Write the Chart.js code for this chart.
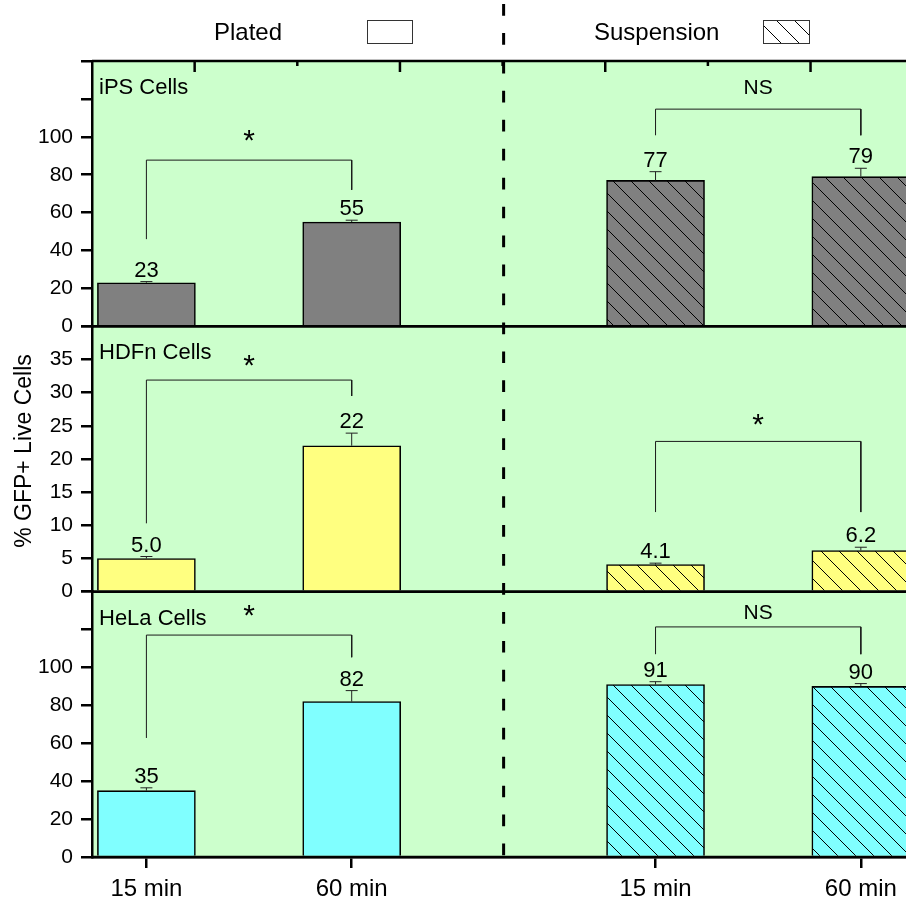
<!DOCTYPE html>
<html>
<head>
<meta charset="utf-8">
<script src="https://cdn.jsdelivr.net/npm/chart.js@4.4.1/dist/chart.umd.min.js"></script>
<style>
  html, body { margin: 0; padding: 0; background: #fff; overflow: hidden; }
  canvas { display: block; }
</style>
</head>
<body>
<canvas id="chart" width="906" height="903"></canvas>
<script>
const FONT = '"Liberation Sans", Arial, Helvetica, sans-serif';

// ---- data ----
const timeLabels = ['15 min', '60 min', '15 min', '60 min'];
const conditions = ['Plated', 'Suspension'];
const cellLines = ['iPS Cells', 'HDFn Cells', 'HeLa Cells'];
const ipsValues = [23, 55, 77, 79];
const ipsErrors = [0.6, 1.0, 4.6, 4.4];
const hdfnValues = [5.0, 22, 4.1, 6.2];
const hdfnErrors = [0.3, 1.9, 0.2, 0.5];
const helaValues = [35, 82, 91, 90];
const helaErrors = [1.5, 5.8, 1.5, 1.5];
const significance = [['*', 'NS'], ['*', '*'], ['*', 'NS']];
const yAxisTitle = '% GFP+ Live Cells';

// ---- layout ----
const barX = [1, 2, 3.48, 4.48];          // bar centres on the shared x scale
const dividerX = 2.74;                     // dashed line between Plated and Suspension
const xMin = 0.735, xMax = 4.70;
const panelMax = [140, 40, 140];
const panelStep = [20, 5, 20];
const panelLabelMax = [100, 35, 100];
// comparison brackets, per panel and condition: [left leg end, bar top, right leg end, label centre]
const bracketGeom = [
  [[46, 87.7, 72, 101.9], [100.8, 114.6, 100.8, 126.3]],
  [[10.3, 31.9, 29.5, 35.3], [12, 22.65, 12, 26.4]],
  [[62.8, 117.1, 105.4, 131.2], [107, 121.4, 107, 129.8]]
];
const axisIds = ['yIps', 'yHdfn', 'yHela'];
const fillColors = ['#808080', '#FFFF80', '#80FFFF'];
const plotBg = '#CCFFCC';

const canvas = document.getElementById('chart');
const ctx = canvas.getContext('2d');

function hatchPattern(base) {
  const s = 18;
  const c = document.createElement('canvas');
  c.width = s; c.height = s;
  const g = c.getContext('2d');
  g.fillStyle = base;
  g.fillRect(0, 0, s, s);
  g.strokeStyle = '#000';
  g.lineWidth = 1;
  g.beginPath();
  g.moveTo(-2, -2); g.lineTo(s + 2, s + 2);
  g.moveTo(-2, s - 2); g.lineTo(2, s + 2);
  g.moveTo(s - 2, -2); g.lineTo(s + 2, 2);
  g.stroke();
  return ctx.createPattern(c, 'repeat');
}

const panelValues = [ipsValues, hdfnValues, helaValues];
const panelErrors = [ipsErrors, hdfnErrors, helaErrors];

const datasets = [];
panelValues.forEach((vals, p) => {
  const hatch = hatchPattern(fillColors[p]);
  datasets.push({
    type: 'bar',
    label: cellLines[p],
    yAxisID: axisIds[p],
    data: vals.map((v, i) => ({ x: barX[i], y: v })),
    backgroundColor: vals.map((v, i) => (i < 2 ? fillColors[p] : hatch)),
    borderColor: '#000',
    borderWidth: 1.6,
    barThickness: 98,
    grouped: false,
    errors: panelErrors[p],
    order: 2
  });
  bracketGeom[p].forEach((g, k) => {
    const xa = barX[2 * k], xb = barX[2 * k + 1];
    datasets.push({
      type: 'line',
      yAxisID: axisIds[p],
      data: [{ x: xa, y: g[0] }, { x: xa, y: g[1] }, { x: xb, y: g[1] }, { x: xb, y: g[2] }],
      borderColor: '#1a1a1a',
      borderWidth: 1,
      pointRadius: 0,
      fill: false,
      tension: 0,
      order: 1,
      bracket: { text: significance[p][k], x: (xa + xb) / 2, y: g[3] }
    });
  });
});

function panelAxis(p) {
  return {
    type: 'linear',
    position: 'left',
    stack: 'cells',
    stackWeight: 1,
    min: 0,
    max: panelMax[p],
    afterBuildTicks: s => {
      const t = [];
      for (let v = 0; v <= panelMax[p]; v += panelStep[p]) t.push({ value: v });
      s.ticks = t;
    },
    afterFit: s => { s.width = 92; },
    ticks: {
      callback: v => (v <= panelLabelMax[p] ? String(v) : ''),
      font: { family: FONT, size: 21 },
      color: '#000',
      padding: 8,
      autoSkip: false
    },
    grid: { drawOnChartArea: false, drawTicks: true, tickLength: 11, color: '#000', lineWidth: 2.5 },
    border: { display: true, color: '#000', width: 2.5 }
  };
}

const framePlugin = {
  id: 'frame',
  beforeDraw(chart) {
    const a = chart.chartArea, c = chart.ctx;
    c.save();
    c.fillStyle = plotBg;
    c.fillRect(a.left, a.top, a.right - a.left, a.bottom - a.top);
    c.restore();
  },
  afterDatasetsDraw(chart) {
    const c = chart.ctx;
    const xs = chart.scales.x;
    c.save();
    chart.data.datasets.forEach((ds, i) => {
      const meta = chart.getDatasetMeta(i);
      const ys = chart.scales[ds.yAxisID];
      if (ds.type === 'bar') {
        meta.data.forEach((el, j) => {
          const v = ds.data[j].y;
          const yTop = ys.getPixelForValue(v + ds.errors[j]);
          c.strokeStyle = '#222';
          c.lineWidth = 1;
          c.beginPath();
          c.moveTo(el.x, el.y);
          c.lineTo(el.x, yTop);
          c.moveTo(el.x - 6, yTop);
          c.lineTo(el.x + 6, yTop);
          c.stroke();
          c.fillStyle = '#000';
          c.font = '22px ' + FONT;
          c.textAlign = 'center';
          c.textBaseline = 'alphabetic';
          c.fillText(v.toPrecision(2), el.x, yTop - 5);
        });
      } else if (ds.bracket) {
        const b = ds.bracket;
        const px = xs.getPixelForValue(b.x);
        const py = ys.getPixelForValue(b.y);
        c.fillStyle = '#000';
        c.textAlign = 'center';
        c.textBaseline = 'alphabetic';
        if (b.text === '*') {
          c.font = '30px ' + FONT;
          c.fillText(b.text, px, py + 0.57 * 30);
        } else {
          c.font = '21px ' + FONT;
          c.fillText(b.text, px, py + 0.358 * 21);
        }
      }
    });
    c.restore();
  },
  afterDraw(chart) {
    const c = chart.ctx, a = chart.chartArea, xs = chart.scales.x;
    c.save();
    // panel frame lines
    c.strokeStyle = '#000';
    c.lineWidth = 2.5;
    axisIds.forEach(id => {
      const s = chart.scales[id];
      c.beginPath();
      c.moveTo(a.left, s.top); c.lineTo(a.right + 2, s.top);
      c.moveTo(a.left, s.bottom); c.lineTo(a.right + 2, s.bottom);
      c.stroke();
    });
    // inward ticks along the top edge
    const top = chart.scales[axisIds[0]].top;
    for (let k = 1; xMin + 0.5 * k <= xMax; k++) {
      const px = xs.getPixelForValue(xMin + 0.5 * k);
      const len = (k % 2 === 1) ? 11 : 5;
      c.beginPath();
      c.moveTo(px, top); c.lineTo(px, top + len);
      c.stroke();
    }
    // panel titles
    c.fillStyle = '#000';
    c.font = '22px ' + FONT;
    c.textAlign = 'left';
    c.textBaseline = 'alphabetic';
    axisIds.forEach((id, p) => {
      c.fillText(cellLines[p], a.left + 7, chart.scales[id].top + 33);
    });
    // dashed divider
    const dx = xs.getPixelForValue(dividerX);
    c.setLineDash([11.7, 17.25]);
    c.lineWidth = 3;
    c.beginPath();
    c.moveTo(dx, 4); c.lineTo(dx, a.bottom);
    c.stroke();
    c.setLineDash([]);
    // legend
    c.font = '24px ' + FONT;
    c.textAlign = 'left';
    c.fillText(conditions[0], 214, 40);
    c.fillText(conditions[1], 594, 40);
    c.lineWidth = 1;
    c.strokeStyle = '#333';
    c.fillStyle = '#fff';
    c.fillRect(367.5, 20.5, 45, 23);
    c.strokeRect(367.5, 20.5, 45, 23);
    c.fillStyle = hatchPattern('#fff');
    c.fillRect(763.5, 20.5, 46, 23);
    c.strokeRect(763.5, 20.5, 46, 23);
    // y title
    c.fillStyle = '#000';
    c.font = '23px ' + FONT;
    c.translate(31, 451);
    c.rotate(-Math.PI / 2);
    c.textAlign = 'center';
    c.textBaseline = 'alphabetic';
    c.fillText(yAxisTitle, 0, 0);
    c.restore();
  }
};

new Chart(ctx, {
  data: { datasets },
  options: {
    responsive: false,
    animation: false,
    events: [],
    layout: { padding: { top: 61, left: 0, right: 0, bottom: 0 } },
    plugins: { legend: { display: false }, tooltip: { enabled: false } },
    scales: {
      x: {
        type: 'linear',
        position: 'bottom',
        min: xMin,
        max: xMax,
        offset: false,
        afterBuildTicks: s => { s.ticks = barX.map(v => ({ value: v })); },
        afterFit: s => { s.height = 46; },
        ticks: {
          callback: (v, i) => timeLabels[i],
          font: { family: FONT, size: 24 },
          color: '#000',
          padding: 7,
          maxRotation: 0,
          autoSkip: false
        },
        grid: { offset: false, drawOnChartArea: false, drawTicks: true, tickLength: 11, color: '#000', lineWidth: 2.5 },
        border: { display: true, color: '#000', width: 2.5 }
      },
      // stacked panels: the first one listed sits at the bottom
      yHela: panelAxis(2),
      yHdfn: panelAxis(1),
      yIps: panelAxis(0)
    }
  },
  plugins: [framePlugin]
});
</script>
</body>
</html>
